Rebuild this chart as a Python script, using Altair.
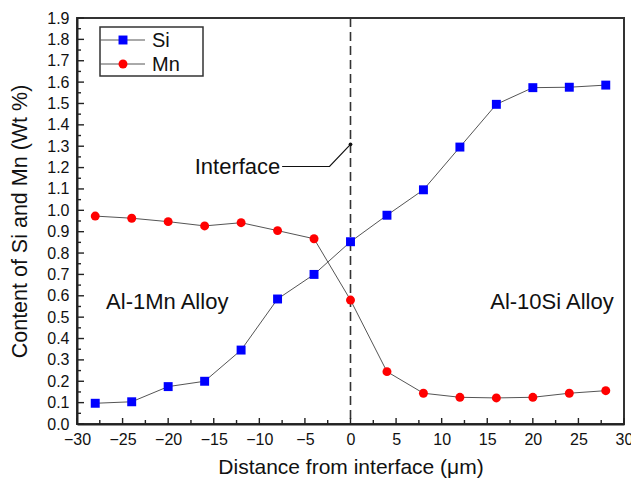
import altair as alt
import pandas as pd

# ---- data ----
distance = [-28, -24, -20, -16, -12, -8, -4, 0, 4, 8, 12, 16, 20, 24, 28]
si = [0.097, 0.104, 0.175, 0.200, 0.346, 0.585, 0.700, 0.853, 0.977, 1.096, 1.296, 1.496, 1.574, 1.576, 1.586]
mn = [0.973, 0.963, 0.947, 0.927, 0.942, 0.905, 0.867, 0.580, 0.245, 0.144, 0.125, 0.122, 0.125, 0.144, 0.156]
series_names = ["Si", "Mn"]
series_colors = ["#0000ff", "#ff0000"]
series_shapes = ["square", "circle"]

y_major = [round(i * 0.1, 1) for i in range(20)]
y_minor = [round(0.05 + i * 0.1, 2) for i in range(19)]
x_major = list(range(-30, 31, 5))
x_minor = [-27.5 + 5 * i for i in range(12)]

leader_x = [-7.5, -2.3, 0]
leader_y = [1.205, 1.205, 1.309]
interface_label = "Interface"
alloy_labels = ["Al-1Mn Alloy", "Al-10Si Alloy"]
alloy_x = [-20.1, 22.1]
alloy_y = [0.572, 0.572]

W, H = 547, 406
FONT = "Liberation Sans"

df = pd.DataFrame({
    "distance": distance * 2,
    "value": si + mn,
    "series": ["Si"] * len(si) + ["Mn"] * len(mn),
})

xs = alt.Scale(domain=[-30, 30], nice=False, zero=False)
ys = alt.Scale(domain=[0, 1.9], nice=False, zero=False)
color_scale = alt.Scale(domain=series_names, range=series_colors)
shape_scale = alt.Scale(domain=series_names, range=series_shapes)

x_axis = alt.Axis(values=x_major, format="d", ticks=False, grid=False, labelOverlap=False, labelFlush=False,
                  labelFontSize=16, labelPadding=7, labelFont=FONT, labelColor="#111",
                  labelExpr="replace(datum.label, '-', '\u2212')",
                  title="Distance from interface (\u03bcm)", titleFontSize=21,
                  titleFont=FONT, titleFontWeight="normal", titleColor="#111", titlePadding=9,
                  domain=True, domainWidth=2, domainColor="#222")
y_axis = alt.Axis(values=y_major, format=".1f", ticks=False, grid=False, labelOverlap=False, labelFlush=False,
                  labelFontSize=16, labelPadding=8, labelFont=FONT, labelColor="#111",
                  title="Content of Si and Mn (Wt %)", titleFontSize=21.5,
                  titleFont=FONT, titleFontWeight="normal", titleColor="#111", titlePadding=15,
                  domain=True, domainWidth=2, domainColor="#222")


def X(f):
    return alt.X(f, scale=xs, axis=x_axis)


def Y(f):
    return alt.Y(f, scale=ys, axis=y_axis)


base = alt.Chart(df)

lines = base.mark_line(color="#555", strokeWidth=1).encode(
    x=X("distance:Q"), y=Y("value:Q"), detail="series:N",
)

points = base.mark_point(filled=True, opacity=1, size=80).encode(
    x=X("distance:Q"),
    y=Y("value:Q"),
    color=alt.Color("series:N", scale=color_scale, legend=None),
    shape=alt.Shape("series:N", scale=shape_scale, legend=None),
)

vline = alt.Chart(pd.DataFrame({"x": [0]})).mark_rule(
    color="#333", strokeWidth=1.6, strokeDash=[9, 5]
).encode(x=X("x:Q"))

leader_df = pd.DataFrame({"x": leader_x, "y": leader_y, "o": list(range(len(leader_x)))})
leader = alt.Chart(leader_df).mark_line(color="#111", strokeWidth=1.2).encode(
    x=X("x:Q"), y=Y("y:Q"), order="o:Q"
)
leader_dot = alt.Chart(leader_df.tail(1)).mark_point(filled=True, color="#111", size=14, opacity=1).encode(
    x=X("x:Q"), y=Y("y:Q")
)
iface_text = alt.Chart(pd.DataFrame({"x": [leader_x[0] - 0.2], "y": [leader_y[0]], "t": [interface_label]})).mark_text(
    align="right", baseline="middle", fontSize=22, font=FONT, color="#111"
).encode(x=X("x:Q"), y=Y("y:Q"), text="t:N")

alloy_text = alt.Chart(pd.DataFrame({"x": alloy_x, "y": alloy_y, "t": alloy_labels})).mark_text(
    align="center", baseline="middle", fontSize=22, font=FONT, color="#111"
).encode(x=X("x:Q"), y=Y("y:Q"), text="t:N")

# inward tick marks
yt_major = alt.Chart(pd.DataFrame({"v": y_major})).mark_rule(color="#222", strokeWidth=1.4).encode(
    y=Y("v:Q"), x=alt.value(0), x2=alt.value(7))
yt_minor = alt.Chart(pd.DataFrame({"v": y_minor})).mark_rule(color="#222", strokeWidth=1.4).encode(
    y=Y("v:Q"), x=alt.value(0), x2=alt.value(4))
xt_major = alt.Chart(pd.DataFrame({"v": x_major})).mark_rule(color="#222", strokeWidth=1.4).encode(
    x=X("v:Q"), y=alt.value(H), y2=alt.value(H - 6))
xt_minor = alt.Chart(pd.DataFrame({"v": x_minor})).mark_rule(color="#222", strokeWidth=1.4).encode(
    x=X("v:Q"), y=alt.value(H), y2=alt.value(H - 4))

# legend box
legend_layers = [
    alt.Chart(pd.DataFrame({"a": [0]})).mark_rect(fill="white", stroke="#333", strokeWidth=1.5).encode(
        x=alt.value(23), x2=alt.value(126), y=alt.value(9), y2=alt.value(58))
]
for i, name in enumerate(series_names):
    yy = 22 + 24 * i
    ldf = pd.DataFrame({"t": [name]})
    legend_layers.append(alt.Chart(ldf).mark_rule(color="#555", strokeWidth=1).encode(
        x=alt.value(23), x2=alt.value(68), y=alt.value(yy)))
    legend_layers.append(alt.Chart(ldf).mark_point(filled=True, opacity=1, size=80,
                                                   shape=series_shapes[i], color=series_colors[i]).encode(
        x=alt.value(46), y=alt.value(yy)))
    legend_layers.append(alt.Chart(ldf).mark_text(align="left", baseline="middle", fontSize=20,
                                                  font=FONT, color="#111").encode(
        x=alt.value(75), y=alt.value(yy + 1), text="t:N"))

chart = alt.layer(
    lines, vline, points, leader, leader_dot, iface_text, alloy_text,
    yt_major, yt_minor, xt_major, xt_minor, *legend_layers
).properties(
    width=W, height=H,
    autosize=alt.AutoSizeParams(type="none"),
    padding={"left": 77, "top": 18, "right": 7, "bottom": 63},
    background="white",
).configure_view(stroke="#333", strokeWidth=2).configure_axis(labelOverlap=False)

chart.save("out.html", embed_options={"renderer": "svg", "actions": False})
